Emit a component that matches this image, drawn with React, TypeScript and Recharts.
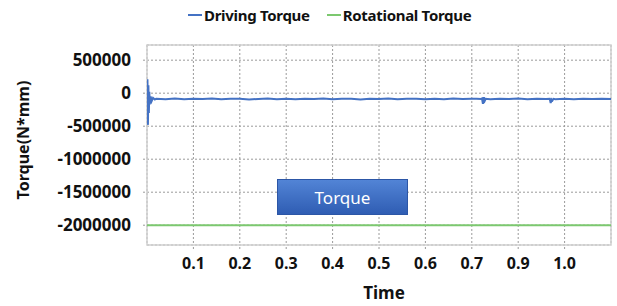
import {
  CartesianGrid,
  Line,
  LineChart,
  ReferenceArea,
  XAxis,
  YAxis,
} from "recharts";

const driveTime = [
  0, 0.001, 0.002, 0.003, 0.004, 0.005, 0.006, 0.008, 0.01, 0.013, 0.017, 0.02,
  0.04, 0.06, 0.08, 0.1, 0.12, 0.14, 0.16, 0.18, 0.2, 0.22, 0.24, 0.26, 0.28,
  0.3, 0.32, 0.34, 0.36, 0.38, 0.4, 0.42, 0.44, 0.46, 0.48, 0.5, 0.52, 0.54,
  0.56, 0.58, 0.6, 0.62, 0.64, 0.66, 0.68, 0.7, 0.71, 0.72, 0.722, 0.724,
  0.726, 0.728, 0.73, 0.74, 0.76, 0.78, 0.8, 0.82, 0.84, 0.86, 0.868, 0.87,
  0.872, 0.874, 0.876, 0.88, 0.9, 0.92, 0.94, 0.96, 0.98, 1.0,
];

const drivingTorque = [
  -60000, 210000, -480000, 120000, -300000, 20000, -170000, -50000, -120000,
  -70000, -95000, -84000, -90000, -80000, -93000, -85000, -88000, -79000,
  -92000, -86000, -83000, -94000, -87000, -81000, -90000, -85000, -92000,
  -84000, -89000, -80000, -91000, -86000, -83000, -95000, -85000, -88000,
  -82000, -93000, -86000, -84000, -90000, -85000, -92000, -81000, -89000,
  -86000, -83000, -88000, -80000, -160000, -60000, -115000, -86000, -91000,
  -84000, -89000, -82000, -93000, -85000, -88000, -84000, -150000, -95000,
  -110000, -86000, -90000, -83000, -92000, -85000, -89000, -84000, -88000,
];

const rotTime = [0, 1.0];
const rotationalTorque = [-2000000, -2000000];

const xTicks = [0.1, 0.2, 0.3, 0.4, 0.5, 0.6, 0.7, 0.8, 0.9];
const xTickLabels = ["0.1", "0.2", "0.3", "0.4", "0.5", "0.6", "0.7", "0.9", "1.0"];
const yTicks = [500000, 0, -500000, -1000000, -1500000, -2000000];
const yDomain = [-2300000, 730000];

const seriesNames = ["Driving Torque", "Rotational Torque"];

const driveData = driveTime.map((t, i) => ({ time: t, drive: drivingTorque[i] }));
const rotData = rotTime.map((t, i) => ({ time: t, rot: rotationalTorque[i] }));

const BLUE = "#4472C4";
const GREEN = "#7CC86F";
const FONT = "'Noto Sans', sans-serif";

const ChartLegend = () => (
  <div
    style={{
      position: "absolute",
      top: 4,
      left: 188,
      display: "flex",
      fontFamily: FONT,
      fontWeight: 700,
      fontSize: 15,
      letterSpacing: -0.3,
      color: "#111",
      lineHeight: "22px",
    }}
  >
    {seriesNames.map((name, i) => (
      <div
        key={name}
        style={{ display: "flex", alignItems: "center", marginLeft: i ? 17 : 0 }}
      >
        <span
          style={{
            display: "inline-block",
            width: 14,
            height: 2,
            background: i ? GREEN : BLUE,
            marginRight: 2,
          }}
        />
        <span>{name}</span>
      </div>
    ))}
  </div>
);

export default function App() {
  return (
    <div
      style={{
        position: "absolute",
        left: 0,
        top: 0,
        width: 617,
        height: 306,
        background: "#fff",
        fontFamily: FONT,
      }}
    >
      <LineChart
        width={617}
        height={306}
        margin={{ top: 45, right: 6, bottom: 0, left: 0 }}
      >
        <CartesianGrid stroke="#9a9a9a" strokeDasharray="2 2" />
        <ReferenceArea
          x1={0}
          x2={1}
          y1={yDomain[0]}
          y2={yDomain[1]}
          fill="none"
          stroke="#cfcfcf"
          strokeWidth={1.5}
        />
        <XAxis
          dataKey="time"
          type="number"
          domain={[0, 1]}
          ticks={xTicks}
          interval={0}
          allowDataOverflow
          height={61}
          axisLine={false}
          tickSize={4}
          tickMargin={9}
          tickLine={{ stroke: "#9a9a9a", strokeDasharray: "2 2" }}
          tickFormatter={(v: number) => xTickLabels[xTicks.indexOf(v)] ?? ""}
          tick={{ fill: "#111", fontSize: 16, fontWeight: 700, fontFamily: FONT }}
          label={() => (
            <text
              x={384}
              y={299}
              textAnchor="middle"
              fill="#111"
              fontSize={17}
              fontWeight={700}
              fontFamily={FONT}
            >
              Time
            </text>
          )}
        />
        <YAxis
          type="number"
          domain={yDomain}
          ticks={yTicks}
          interval={0}
          allowDataOverflow
          width={147}
          axisLine={false}
          tickSize={4}
          tickMargin={12}
          tickLine={{ stroke: "#9a9a9a", strokeDasharray: "2 2" }}
          tick={{ fill: "#111", fontSize: 17, fontWeight: 700, fontFamily: FONT }}
          label={() => (
            <text
              x={23}
              y={140}
              transform="rotate(-90 23 140)"
              textAnchor="middle"
              dominantBaseline="central"
              fill="#111"
              fontSize={16}
              fontWeight={700}
              fontFamily={FONT}
            >
              Torque(N*mm)
            </text>
          )}
        />
        <Line
          data={rotData}
          dataKey="rot"
          name={seriesNames[1]}
          stroke={GREEN}
          strokeWidth={2}
          dot={false}
          type="linear"
          isAnimationActive={false}
        />
        <Line
          data={driveData}
          dataKey="drive"
          name={seriesNames[0]}
          stroke={BLUE}
          strokeWidth={2}
          dot={false}
          type="linear"
          isAnimationActive={false}
        />
      </LineChart>
      <ChartLegend />
      <div
        style={{
          position: "absolute",
          left: 277,
          top: 179,
          width: 131,
          height: 36,
          background: "linear-gradient(#5284d6, #2f5db3)",
          border: "1px solid #2c56a6",
          boxSizing: "border-box",
          color: "#fff",
          fontSize: 17,
          fontFamily: FONT,
          display: "flex",
          alignItems: "center",
          justifyContent: "center",
        }}
      >
        Torque
      </div>
    </div>
  );
}
